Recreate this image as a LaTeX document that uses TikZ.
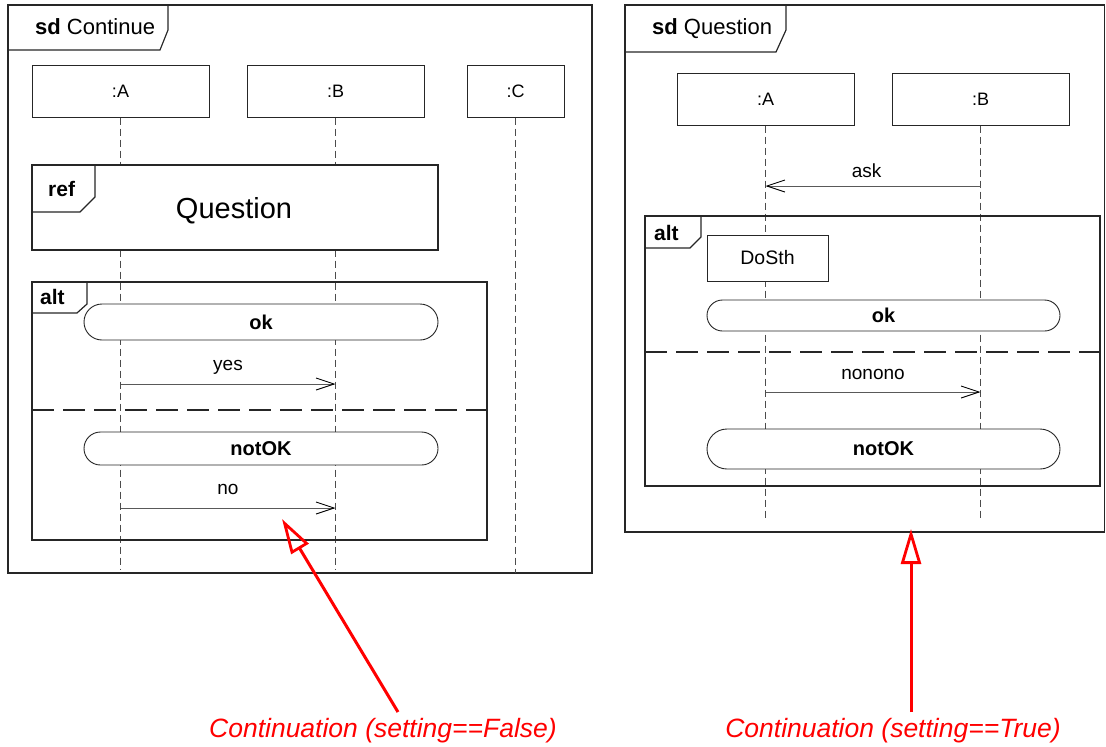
\documentclass[tikz,border=0pt]{standalone}
\usepackage{fontspec}
\setmainfont{Liberation Sans}
\usetikzlibrary{arrows.meta}
\begin{document}
\begin{tikzpicture}[x=1pt,y=-1pt,
  frame/.style={draw=black!85, line width=1.3pt},
  tabline/.style={draw=black!85, line width=1.2pt},
  lifebox/.style={draw=black!85, line width=1pt, fill=white, minimum width=177pt, minimum height=52pt, inner sep=0pt, font=\fontsize{18}{20}\selectfont},
  lifeline/.style={draw=black!70, line width=0.9pt, dash pattern=on 7pt off 4pt},
  msg/.style={draw=black!65, line width=0.9pt, -{Straight Barb[length=18pt,width=12pt,line width=0.9pt,black]}},
  msglbl/.style={font=\fontsize{19}{21}\selectfont, inner sep=0pt, anchor=center},
  cont/.style={draw=black!85, line width=0.9pt, fill=white, inner sep=0pt, font=\bfseries\fontsize{20}{22}\selectfont},
  sep/.style={draw=black!85, line width=1.2pt, dash pattern=on 22pt off 9pt},
  tablbl/.style={font=\bfseries\fontsize{21}{23}\selectfont, inner sep=0pt, anchor=west},
  sdlbl/.style={font=\fontsize{22}{24}\selectfont, inner sep=0pt, anchor=west},
  note/.style={text=red, font=\itshape\fontsize{26.5}{30}\selectfont, inner sep=0pt},
  callout/.style={draw=red, line width=3pt, -{Triangle[open,length=35pt,width=20pt,line width=2.8pt]}}
]
\useasboundingbox (0,0) rectangle (1106,747);

% ================= LEFT FRAME =================
\draw[frame] (8,5) rectangle (592,573);
\draw[tabline] (168,5) -- (168,30) -- (160,50) -- (8,50);
\node[sdlbl] (sdL) at (35,27) {\textbf{sd} Continue};

\node[lifebox] (LA) at (120.5,91) {:A};
\node[lifebox] (LB) at (335.5,91) {:B};
\node[lifebox, minimum width=97pt] (LC) at (515.5,91) {:C};
\coordinate (LAend) at (120.5,570);
\coordinate (LBend) at (335.5,570);
\coordinate (LCend) at (515.5,573);
\draw[lifeline] (LA.south) -- (LAend);
\draw[lifeline] (LB.south) -- (LBend);
\draw[lifeline] (LC.south) -- (LCend);

% ref
\node[draw=black!85, line width=1.2pt, fill=white, minimum width=406pt, minimum height=85pt, inner sep=0pt] (refQ) at (235,207.5) {};
\node[inner sep=0pt, font=\fontsize{29}{32}\selectfont] (refT) at (234,211) {Question};
\draw[tabline] (95,165) -- (95,197) -- (80,212) -- (32,212);
\node[tablbl] (refL) at (48,189) {ref};

% alt
\draw[frame] (32,282) rectangle (487,540);
\draw[tabline] (87,282) -- (87,304) -- (77,313) -- (32,313);
\node[tablbl] (altL) at (40,297) {alt};

\node[cont, minimum width=354pt, minimum height=36pt, rounded corners=18pt] (okL) at (261,322) {ok};
\coordinate (m1s) at (120.5,384);
\coordinate (m1e) at (335.5,384);
\draw[msg] (m1s) -- (m1e) node[msglbl, midway, yshift=17pt] (yesL) {yes};
\draw[sep] (32,410) -- (487,410);
\node[cont, minimum width=354pt, minimum height=33pt, rounded corners=16.5pt] (notL) at (261,448.5) {notOK};
\coordinate (m2s) at (120.5,508);
\coordinate (m2e) at (335.5,508);
\draw[msg] (m2s) -- (m2e) node[msglbl, midway, yshift=19pt] (noL) {no};

% ================= RIGHT FRAME =================
\draw[frame] (625,5) -- (1104.5,5) -- (1104.5,532) -- (625,532) -- cycle;
\draw[tabline] (786,5) -- (786,30) -- (776,52) -- (625,52);
\node[sdlbl] (sdR) at (652,29) {\textbf{sd} Question};

\node[lifebox] (RA) at (765.5,99) {:A};
\node[lifebox] (RB) at (980.5,99) {:B};
\coordinate (RAend) at (765.5,518);
\coordinate (RBend) at (980.5,518);
\draw[lifeline] (RA.south) -- (RAend);
\draw[lifeline] (RB.south) -- (RBend);

\coordinate (m3s) at (980.5,186);
\coordinate (m3e) at (765.5,186);
\draw[msg] (m3s) -- (m3e) node[msglbl, pos=0.53, yshift=15pt] (askL) {ask};

\draw[frame] (645,216) rectangle (1100,486);
\draw[tabline] (701,216) -- (701,237) -- (690,248) -- (645,248);
\node[tablbl] (altR) at (654,233) {alt};

\node[draw=black!85, line width=0.9pt, fill=white, minimum width=121pt, minimum height=46pt, inner sep=0pt, font=\fontsize{19.5}{21}\selectfont] (dosth) at (767.5,258) {DoSth};
\node[cont, minimum width=353pt, minimum height=31pt, rounded corners=15.5pt] (okR) at (883.5,315.5) {ok};
\draw[sep] (645,352) -- (1100,352);
\coordinate (m4s) at (765.5,392);
\coordinate (m4e) at (980.5,392);
\draw[msg] (m4s) -- (m4e) node[msglbl, midway, yshift=18pt] (nononoL) {nonono};
\node[cont, minimum width=353pt, minimum height=40pt, rounded corners=20pt] (notR) at (883.5,449) {notOK};

% ================= CALLOUTS =================
\node[note] (noteF) at (383,731) {Continuation (setting==False)};
\node[note] (noteT) at (893,731) {Continuation (setting==True)};
\coordinate (tipF) at (282,519);
\coordinate (tipT) at (911,529);
\coordinate (tailF) at (398,712);
\coordinate (tailT) at (911,712);
\draw[callout] (tailF) -- (tipF);
\draw[callout] (tailT) -- (tipT);
\end{tikzpicture}
\end{document}
